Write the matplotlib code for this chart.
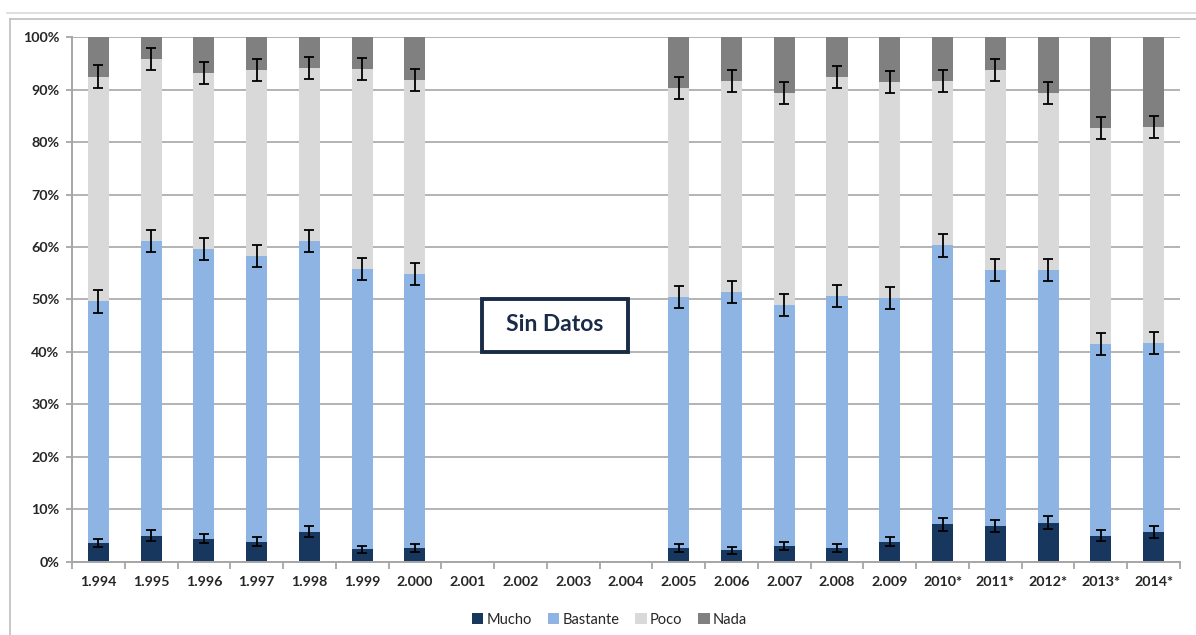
import numpy as np
import matplotlib.pyplot as plt
from matplotlib.lines import Line2D
from matplotlib.patches import Rectangle

plt.rcParams['font.family'] = ['Lato', 'DejaVu Sans']

# datos (%), 2001-2004 sin datos
anios = ['1.994', '1.995', '1.996', '1.997', '1.998', '1.999', '2.000',
         '2.001', '2.002', '2.003', '2.004', '2.005', '2.006', '2.007',
         '2.008', '2.009', '2010*', '2011*', '2012*', '2013*', '2014*']
nan = np.nan
mucho = [3.7, 5.0, 4.4, 3.9, 5.8, 2.4, 2.7, nan, nan, nan, nan,
         2.7, 2.2, 3.0, 2.7, 3.9, 7.2, 6.9, 7.5, 5.0, 5.8]
bastante = [46.0, 56.2, 55.2, 54.3, 55.4, 53.5, 52.1, nan, nan, nan, nan,
            47.7, 49.2, 46.0, 48.0, 46.3, 53.1, 48.7, 48.1, 36.5, 36.0]
poco = [42.7, 34.6, 33.6, 35.5, 32.9, 38.0, 37.0, nan, nan, nan, nan,
        39.8, 40.3, 40.3, 41.7, 41.3, 31.4, 38.1, 33.7, 41.1, 41.0]
nada = [7.6, 4.2, 6.8, 6.3, 5.9, 6.1, 8.2, nan, nan, nan, nan,
        9.8, 8.3, 10.7, 7.6, 8.5, 8.3, 6.3, 10.7, 17.4, 17.2]

# semiamplitud de las barras de error (%)
err_mucho = [0.76, 1.0, 0.86, 0.95, 1.1, 0.73, 0.75, nan, nan, nan, nan,
             0.76, 0.7, 0.8, 0.76, 0.89, 1.27, 1.14, 1.17, 1.05, 1.14]
err_bastante = [2.2, 2.1, 2.1, 2.1, 2.1, 2.1, 2.1, nan, nan, nan, nan,
                2.1, 2.1, 2.1, 2.1, 2.1, 2.2, 2.1, 2.1, 2.1, 2.1]
err_poco = [2.2, 2.1, 2.1, 2.1, 2.1, 2.1, 2.1, nan, nan, nan, nan,
            2.1, 2.1, 2.1, 2.1, 2.1, 2.1, 2.1, 2.1, 2.1, 2.1]

series = ['Mucho', 'Bastante', 'Poco', 'Nada']
colores = ['#17375E', '#8DB4E2', '#D9D9D9', '#808080']

fig = plt.figure(figsize=(11.96, 6.35), dpi=100)
ax = fig.add_axes([0.0602, 0.115, 0.9264, 0.8267])

x = np.arange(len(anios))
valores = [np.array(mucho), np.array(bastante), np.array(poco), np.array(nada)]
errores = [err_mucho, err_bastante, err_poco, None]
base = np.zeros(len(anios))
for nombre, v, c, e in zip(series, valores, colores, errores):
    ax.bar(x, v, width=0.4, bottom=base, color=c, label=nombre, zorder=2)
    tope = base + v
    if e is not None:
        ax.errorbar(x, tope, yerr=e, fmt='none', ecolor='black',
                    elinewidth=1.3, capsize=3.5, capthick=1.3, zorder=3)
    base = tope

ax.set_xlim(-0.5, len(anios) - 0.5)
ax.set_ylim(0, 100)
ax.set_yticks(np.arange(0, 101, 10))
ax.set_yticklabels([f'{v}%' for v in range(0, 101, 10)])
ax.set_xticks(x)
ax.set_xticklabels(anios)
ax.set_xticks(np.arange(-0.5, len(anios), 1), minor=True)
ax.tick_params(axis='x', which='major', length=0, pad=10)
ax.tick_params(axis='x', which='minor', length=5, color='#A6A6A6', width=1.3)
ax.tick_params(axis='y', length=4, color='#A6A6A6', width=1.3, pad=5)
for lab in ax.get_xticklabels() + ax.get_yticklabels():
    lab.set_fontsize(10.3)
    lab.set_fontweight('bold')
    lab.set_color('#262626')

ax.grid(axis='y', color='#B3B3B3', linewidth=1.4, zorder=0)
ax.set_axisbelow(True)
for s in ['top', 'right']:
    ax.spines[s].set_visible(False)
for s in ['left', 'bottom']:
    ax.spines[s].set_color('#A6A6A6')
    ax.spines[s].set_linewidth(1.4)

# recuadro "Sin Datos"
ax.add_patch(Rectangle((0.370, 0.400), 0.132, 0.101, transform=ax.transAxes,
                       facecolor='white', edgecolor='#1A2B48', linewidth=2.8,
                       zorder=5))
ax.text(0.436, 0.453, 'Sin Datos', transform=ax.transAxes, ha='center',
        va='center', fontsize=16.5, fontweight='bold', color='#1A2B48',
        zorder=6)

leg = ax.legend(loc='upper center', bbox_to_anchor=(0.485, -0.072), ncol=4,
                frameon=False, fontsize=10.5, handlelength=0.8,
                handleheight=0.8, handletextpad=0.2, columnspacing=1.1)
for t in leg.get_texts():
    t.set_color('#262626')

# marco del gráfico
fig.add_artist(Line2D([0.006, 1], [1 - 12.5 / 635] * 2, color='#D9D9D9', lw=1.2))
fig.add_artist(Line2D([10 / 1196, 1], [1 - 19 / 635] * 2, color='#BFBFBF', lw=1.2))
fig.add_artist(Line2D([10 / 1196] * 2, [0, 1 - 19 / 635], color='#BFBFBF', lw=1.2))

fig.savefig('out.png', dpi=100)
